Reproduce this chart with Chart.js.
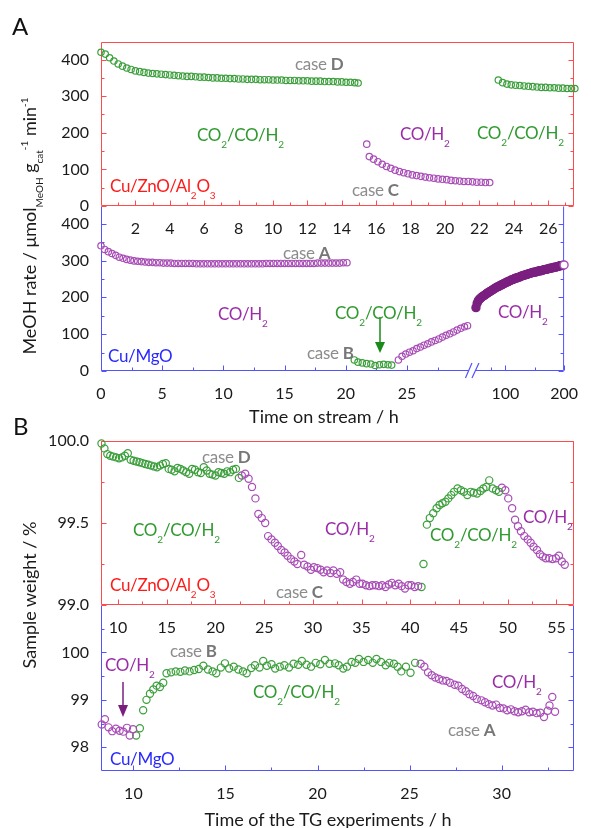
<!DOCTYPE html>
<html>
<head>
<meta charset="utf-8">
<script src="https://cdn.jsdelivr.net/npm/chart.js@4.4.1/dist/chart.umd.min.js"></script>
<style>
  body { margin: 0; background: #fff; }
  #wrap { position: relative; width: 591px; height: 828px; font-family: Lato, sans-serif; overflow: hidden; }
  canvas { position: absolute; left: 0; top: 0; }
  svg { position: absolute; left: 0; top: 0; }
  .t { position: absolute; white-space: nowrap; line-height: 1; font-size: 17px; letter-spacing: -0.3px; }
  .t sub, .yt sub { font-size: 10px; vertical-align: -7px; line-height: 0; letter-spacing: 0; }
  .yt sup { font-size: 10px; vertical-align: 8px; line-height: 0; }
  .green { color: #2f9a2f; }
  .purple { color: #9a2ca8; }
  .gray { color: #8c8c8c; }
  .gray b { color: #777; }
  .red { color: #ff1a1a; }
  .blue { color: #2a2aff; }
  .xt { position: absolute; white-space: nowrap; line-height: 1; font-size: 18px; color: #1a1a1a; transform: translateX(-50%); }
  .yt { position: absolute; white-space: nowrap; line-height: 1; font-size: 18px; color: #1a1a1a; transform: translate(-50%, -50%) rotate(-90deg); }
</style>
</head>
<body>
<div id="wrap">
  <canvas id="lowA" width="591" height="828"></canvas>
  <canvas id="topA" width="591" height="828"></canvas>
  <canvas id="lowB" width="591" height="828"></canvas>
  <canvas id="topB" width="591" height="828"></canvas>

  <svg width="591" height="828">
    <line x1="380" y1="317" x2="380" y2="343" stroke="#1a8a1a" stroke-width="1.5"/>
    <polygon points="375,342 385,342 380,353" fill="#1a8a1a"/>
    <line x1="123" y1="682" x2="123" y2="706" stroke="#7a1f80" stroke-width="1.5"/>
    <polygon points="118,705 128,705 123,717" fill="#7a1f80"/>
  </svg>

  <!-- panel A -->
  <div class="t" style="left:12px;top:14px;font-size:24px;color:#111">A</div>
  <div class="t gray" style="left:295px;top:55px">case <b>D</b></div>
  <div class="t green" style="left:197px;top:126px">CO<sub>2</sub>/CO/H<sub>2</sub></div>
  <div class="t purple" style="left:400px;top:125px">CO/H<sub>2</sub></div>
  <div class="t green" style="left:477px;top:124px">CO<sub>2</sub>/CO/H<sub>2</sub></div>
  <div class="t gray" style="left:352px;top:181px">case <b>C</b></div>
  <div class="t red" style="left:110px;top:177px">Cu/ZnO/Al<sub>2</sub>O<sub>3</sub></div>
  <div class="t gray" style="left:283px;top:244px">case <b>A</b></div>
  <div class="t purple" style="left:218px;top:305px">CO/H<sub>2</sub></div>
  <div class="t green" style="left:335px;top:304px">CO<sub>2</sub>/CO/H<sub>2</sub></div>
  <div class="t gray" style="left:307px;top:344px">case <b>B</b></div>
  <div class="t purple" style="left:498px;top:303px">CO/H<sub>2</sub></div>
  <div class="t blue" style="left:108px;top:347px">Cu/MgO</div>
  <div class="xt" style="left:324px;top:407px">Time on stream / h</div>
  <div class="yt" style="left:29px;top:226px">MeOH rate / μmol<sub>MeOH</sub> g<sub>cat</sub><sup>-1</sup> min<sup>-1</sup></div>

  <!-- panel B -->
  <div class="t" style="left:13px;top:414px;font-size:24px;color:#111">B</div>
  <div class="t gray" style="left:202px;top:448px">case <b>D</b></div>
  <div class="t green" style="left:133px;top:521px">CO<sub>2</sub>/CO/H<sub>2</sub></div>
  <div class="t purple" style="left:325px;top:520px">CO/H<sub>2</sub></div>
  <div class="t green" style="left:430px;top:526px">CO<sub>2</sub>/CO/H<sub>2</sub></div>
  <div class="t purple" style="left:523px;top:508px">CO/H<sub>2</sub></div>
  <div class="t gray" style="left:276px;top:583px">case <b>C</b></div>
  <div class="t red" style="left:110px;top:576px">Cu/ZnO/Al<sub>2</sub>O<sub>3</sub></div>
  <div class="t purple" style="left:105px;top:656px">CO/H<sub>2</sub></div>
  <div class="t gray" style="left:170px;top:642px">case <b>B</b></div>
  <div class="t green" style="left:253px;top:683px">CO<sub>2</sub>/CO/H<sub>2</sub></div>
  <div class="t blue" style="left:110px;top:750px">Cu/MgO</div>
  <div class="t purple" style="left:492px;top:673px">CO/H<sub>2</sub></div>
  <div class="t gray" style="left:448px;top:721px">case <b>A</b></div>
  <div class="xt" style="left:328px;top:810px">Time of the TG experiments / h</div>
  <div class="yt" style="left:29px;top:595px">Sample weight / %</div>
</div>

<script>
// ===== データ =====
// A 上段 Cu/ZnO/Al2O3 : 時間 (h) と MeOH 生成速度
const znGreen1T = [0,0.25,0.5,0.75,1,1.25,1.5,1.75,2,2.25,2.5,2.75,3,3.25,3.5,3.75,4,4.25,4.5,4.75,5,5.25,5.5,5.75,6,6.25,6.5,6.75,7,7.25,7.5,7.75,8,8.25,8.5,8.75,9,9.25,9.5,9.75,10,10.25,10.5,10.75,11,11.25,11.5,11.75,12,12.25,12.5,12.75,13,13.25,13.5,13.75,14,14.25,14.5,14.75,14.95];
const znGreen1Y = [420,415,405,396,388,382,377,373,369,367,365,363,362,361,360,359,358,357,356,355,354,354,353,352,352,351,350,350,349,349,348,348,347,347,346,346,346,345,345,345,344,344,344,343,343,343,342,342,342,341,341,341,340,340,340,339,339,338,338,337,336];
const znPurpleT = [15.45,15.6,15.85,16.1,16.35,16.6,16.85,17.1,17.35,17.6,17.85,18.1,18.35,18.6,18.85,19.1,19.35,19.6,19.85,20.1,20.35,20.6,20.85,21.1,21.35,21.6,21.85,22.1,22.35,22.6];
const znPurpleY = [169,135,128,121,114,108,103,98,94,91,88,85,83,81,79,77,76,74,73,72,70,69,68,67,67,66,65,65,64,64];
const znGreen2T = [23.1,23.35,23.6,23.85,24.1,24.35,24.6,24.85,25.1,25.35,25.6,25.85,26.1,26.35,26.6,26.85,27.1,27.35,27.55];
const znGreen2Y = [344,337,333,331,330,329,328,327,326,325,324,324,323,323,322,322,321,321,321];

// A 下段 Cu/MgO
const mgPurple1T = [0,0.3,0.6,0.9,1.2,1.5,1.8,2.1,2.4,2.7,3,3.3,3.6,3.9,4.2,4.5,4.8,5.1,5.4,5.7,6,6.3,6.6,6.9,7.2,7.5,7.8,8.1,8.4,8.7,9,9.3,9.6,9.9,10.2,10.5,10.8,11.1,11.4,11.7,12,12.3,12.6,12.9,13.2,13.5,13.8,14.1,14.4,14.7,15,15.3,15.6,15.9,16.2,16.5,16.8,17.1,17.4,17.7,18,18.3,18.6,18.9,19.2,19.5,19.8,20.1];
const mgPurple1Y = [340,330,324,319,314,309,306,303,301,299,298,297,296,295,295,294,294,293,293,293,292,292,292,292,292,292,291,291,291,291,291,291,291,291,291,291,291,291,291,291,291,291,291,291,291,292,292,292,292,292,292,292,292,292,292,292,292,292,292,293,293,293,293,293,293,293,294,294];
const mgGreenT = [20.7,21.0,21.35,21.7,22.05,22.4,22.75,23.1,23.45,23.75];
const mgGreenY = [30,24,22,20,19,15,17,18,17,16];
const mgPurple2T = [24.3,24.6,24.9,25.2,25.5,25.8,26.1,26.4,26.7,27.0,27.3,27.6,27.9,28.2,28.5,28.8,29.1,29.4,29.7,29.95];
const mgPurple2Y = [30,40,46,51,55,61,65,70,74,79,83,87,92,97,101,106,111,116,120,123];
const mgLongT = [50,52,54,56,58,60,62,64,66,68,70,72,74,76,78,80,82,84,86,88,90,92,94,96,98,100,102,104,106,108,110,112,114,116,118,120,122,124,126,128,130,132,134,136,138,140,142,144,146,148,150,152,154,156,158,160,162,164,166,168,170,172,174,176,178,180,182,184,186,188,190,192,194,196,198,200];
const mgLongY = [172,184,191,195,198,201,203,205,207,210,212,214,216,218,220,222,224,226,228,229,231,233,234,236,238,239,241,242,244,245,247,248,249,251,252,253,254,255,257,258,259,260,261,262,263,264,265,266,267,268,268,269,270,271,272,272,273,274,275,276,276,277,278,279,279,280,281,282,282,283,284,285,286,286,287,288];

// B 上段 Cu/ZnO/Al2O3 : TG 時間 (h) と重量 (%)
const tgZnGreen1T = [8.3,8.6,8.9,9.2,9.5,9.8,10.1,10.4,10.7,11.0,11.3,11.6,11.9,12.2,12.5,12.8,13.1,13.4,13.7,14.0,14.3,14.6,14.9,15.2,15.5,15.8,16.1,16.4,16.7,17.0,17.3,17.6,17.9,18.2,18.5,18.8,19.1,19.4,19.7,20.0,20.3,20.6,20.9,21.2,21.5,21.8,22.1,22.4];
const tgZnGreen1Y = [99.985,99.955,99.92,99.91,99.905,99.90,99.895,99.90,99.91,99.925,99.885,99.88,99.875,99.87,99.865,99.86,99.855,99.85,99.845,99.84,99.85,99.86,99.865,99.83,99.825,99.815,99.835,99.83,99.82,99.81,99.80,99.83,99.825,99.81,99.805,99.84,99.82,99.80,99.795,99.79,99.81,99.805,99.80,99.815,99.81,99.825,99.83,99.775];
const tgZnPurple1T = [22.7,23.05,23.4,23.75,24.1,24.4,24.75,25.1,25.4,25.75,26.1,26.4,26.75,27.1,27.4,27.75,28.1,28.4,28.8,29.1,29.45,29.8,30.1,30.45,30.8,31.1,31.45,31.8,32.1,32.45,32.8,33.1,33.45,33.8,34.1,34.45,34.8,35.1,35.45,35.8,36.1,36.45,36.8,37.1,37.45,37.8,38.1,38.45,38.8,39.1,39.45,39.8,40.1,40.45,40.8];
const tgZnPurple1Y = [99.79,99.80,99.77,99.72,99.65,99.555,99.53,99.50,99.42,99.40,99.38,99.36,99.335,99.32,99.30,99.28,99.265,99.25,99.305,99.245,99.235,99.215,99.23,99.225,99.215,99.20,99.21,99.195,99.21,99.19,99.20,99.155,99.14,99.13,99.14,99.155,99.13,99.13,99.12,99.115,99.12,99.12,99.115,99.12,99.11,99.125,99.135,99.12,99.13,99.115,99.10,99.12,99.12,99.11,99.115];
const tgZnGreen2T = [41.15,41.35,41.7,42.0,42.35,42.7,43.0,43.3,43.6,43.9,44.2,44.5,44.85,45.2,45.5,45.85,46.2,46.5,46.85,47.2,47.5,47.8,48.1,48.45,48.8,49.1];
const tgZnGreen2Y = [99.11,99.25,99.49,99.53,99.56,99.59,99.61,99.62,99.63,99.65,99.67,99.69,99.71,99.70,99.69,99.67,99.69,99.685,99.68,99.695,99.71,99.72,99.76,99.71,99.70,99.69];
const tgZnPurple2T = [49.4,49.75,50.05,50.45,50.75,51.05,51.35,51.7,52.05,52.35,52.65,53.0,53.3,53.6,53.9,54.25,54.6,54.95,55.25,55.55,55.85];
const tgZnPurple2Y = [99.715,99.70,99.65,99.59,99.52,99.48,99.45,99.42,99.40,99.38,99.355,99.335,99.31,99.295,99.285,99.285,99.28,99.285,99.30,99.265,99.245];

// B 下段 Cu/MgO
const tgMgPurple1T = [8.28,8.45,8.65,8.85,9.05,9.25,9.45,9.65,9.8,9.98];
const tgMgPurple1Y = [98.48,98.59,98.42,98.34,98.39,98.35,98.33,98.41,98.25,98.38];
const tgMgGreenT = [10.15,10.35,10.53,10.71,10.9,11.08,11.26,11.44,11.62,11.8,12.05,12.3,12.55,12.8,13.05,13.3,13.55,13.8,14.05,14.3,14.5,14.75,14.97,15.2,15.45,15.7,15.95,16.15,16.4,16.6,16.85,17.05,17.25,17.5,17.7,17.95,18.2,18.45,18.7,18.95,19.15,19.4,19.65,19.9,20.15,20.4,20.65,20.95,21.15,21.4,21.6,21.85,22.05,22.25,22.5,22.75,23.0,23.2,23.45,23.7,23.9,24.15,24.35,24.55,24.8,25.05,25.3];
const tgMgGreenY = [98.25,98.40,98.78,99.00,99.13,99.22,99.30,99.27,99.36,99.56,99.58,99.60,99.59,99.62,99.60,99.63,99.65,99.72,99.64,99.60,99.56,99.68,99.77,99.66,99.70,99.64,99.60,99.56,99.67,99.73,99.68,99.82,99.72,99.75,99.66,99.70,99.73,99.68,99.76,99.74,99.82,99.74,99.70,99.78,99.75,99.84,99.76,99.77,99.73,99.66,99.70,99.80,99.78,99.86,99.80,99.84,99.78,99.86,99.80,99.73,99.78,99.76,99.70,99.60,99.70,99.57,99.78];
const tgMgPurple2T = [25.6,25.8,26.0,26.2,26.4,26.6,26.8,27.0,27.2,27.45,27.65,27.85,28.05,28.25,28.45,28.65,28.9,29.1,29.3,29.5,29.7,29.9,30.1,30.3,30.5,30.7,30.9,31.1,31.3,31.5,31.7,31.9,32.1,32.3,32.5,32.6,32.75,32.9];
const tgMgPurple2Y = [99.76,99.70,99.58,99.52,99.47,99.44,99.41,99.40,99.36,99.32,99.30,99.23,99.18,99.12,99.08,99.02,98.99,98.95,98.91,98.88,98.90,98.83,98.82,98.78,98.80,98.76,98.74,98.76,98.79,98.74,98.75,98.72,98.73,98.64,98.77,98.88,99.06,98.75];

// 目盛り
const rateTicks = [0, 100, 200, 300, 400];
const rateLabels = ['0', '100', '200', '300', '400'];
const streamTopTicks = [2, 4, 6, 8, 10, 12, 14, 16, 18, 20, 22, 24, 26];
const streamTopLabels = ['2', '4', '6', '8', '10', '12', '14', '16', '18', '20', '22', '24', '26'];
const streamLowTicks = [0, 5, 10, 15, 20, 25, 100, 200];
const streamLowLabels = ['0', '5', '10', '15', '20', '25', '100', '200'];
const tgTopTicks = [10, 15, 20, 25, 30, 35, 40, 45, 50, 55];
const tgTopLabels = ['10', '15', '20', '25', '30', '35', '40', '45', '50', '55'];
const tgLowTicks = [10, 15, 20, 25, 30];
const tgLowLabels = ['10', '15', '20', '25', '30'];
const weightTopTicks = [99.0, 99.5, 100.0];
const weightTopLabels = ['99.0', '99.5', '100.0'];
const weightLowTicks = [98, 99, 100];
const weightLowLabels = ['98', '99', '100'];

// ===== 色 =====
const GREEN = '#3c9f3c';
const PURPLE = '#a84db6';
const BAND = '#7b1f80';
const RED = '#ff4b4b';
const BLUE = '#5252ff';

Chart.defaults.font.family = 'Lato, sans-serif';
Chart.defaults.font.size = 16;
Chart.defaults.color = '#1a1a1a';

function range(a, b, step) {
    const out = [];
    for (let v = a; v <= b + 1e-9; v += step) out.push(+v.toFixed(3));
    return out;
}

function pts(xs, ys) {
    return xs.map((x, i) => ({ x: x, y: ys[i] }));
}

function series(xs, ys, color, r) {
    return {
        data: pts(xs, ys),
        showLine: false,
        clip: false,
        pointRadius: r,
        pointBorderWidth: 1.2,
        pointBorderColor: color,
        pointBackgroundColor: 'rgba(0,0,0,0)'
    };
}

// 軸の切れ目 (30 h 〜 50 h) を持つ時間軸
class BrokenScale extends Chart.LinearScale {
    getPixelForValue(value) {
        let f;
        if (value <= 30.4) f = value / 30.4 * 0.8034;
        else if (value < 50) f = 0.8034 + (value - 30.4) / 19.6 * 0.0063;
        else f = 0.8097 + (value - 50) / 150 * 0.1903;
        return this.getPixelForDecimal(f);
    }
}
BrokenScale.id = 'brokenLinear';
BrokenScale.defaults = {};
Chart.register(BrokenScale);

// 枠と内向きの目盛り線
const framePlugin = {
    id: 'frame',
    beforeDatasetsDraw(chart, args, opts) {
        const { ctx, chartArea: a } = chart;
        const xs = chart.scales.x, ys = chart.scales.y;
        const L = a.left + 0.5, R = a.right - 0.5, T = a.top + 0.5, B = a.bottom - 0.5;
        ctx.save();
        ctx.strokeStyle = opts.color;
        ctx.lineWidth = 1;
        ctx.beginPath();
        opts.yMajor.concat(opts.yMinor).forEach((v, i) => {
            const len = i < opts.yMajor.length ? 5 : 3;
            const p = Math.round(ys.getPixelForValue(v)) + 0.5;
            ctx.moveTo(L, p); ctx.lineTo(L + len, p);
            ctx.moveTo(R, p); ctx.lineTo(R - len, p);
        });
        opts.xMajor.concat(opts.xMinor).forEach((v, i) => {
            const len = i < opts.xMajor.length ? 5 : 3;
            const p = Math.round(xs.getPixelForValue(v)) + 0.5;
            ctx.moveTo(p, B); ctx.lineTo(p, B - len);
        });
        if (opts.top) { ctx.moveTo(L, T); ctx.lineTo(R, T); }
        ctx.moveTo(L, T); ctx.lineTo(L, B);
        ctx.moveTo(R, T); ctx.lineTo(R, B);
        ctx.moveTo(L, B); ctx.lineTo(R, B);
        ctx.stroke();
        ctx.restore();
    }
};

// 「//」の切れ目マーク
const breakPlugin = {
    id: 'axisBreak',
    afterDraw(chart) {
        const { ctx, chartArea: a } = chart;
        const cx = chart.scales.x.getPixelForValue(40);
        const b = a.bottom - 0.5;
        ctx.save();
        ctx.fillStyle = '#fff';
        ctx.fillRect(cx - 5.5, b - 2, 6, 4);
        ctx.strokeStyle = BLUE;
        ctx.lineWidth = 1.2;
        ctx.beginPath();
        ctx.moveTo(cx - 9, b + 7.5); ctx.lineTo(cx - 2.5, b - 7.5);
        ctx.moveTo(cx - 2.5, b + 7.5); ctx.lineTo(cx + 4.5, b - 7.5);
        ctx.stroke();
        ctx.restore();
    }
};

function makePanel(id, o) {
    return new Chart(document.getElementById(id), {
        type: 'scatter',
        data: { datasets: o.datasets },
        options: {
            responsive: false,
            animation: false,
            events: [],
            layout: { autoPadding: false, padding: { left: 0, right: 17, top: o.top, bottom: 828 - o.bottom - 40 } },
            plugins: { legend: { display: false }, tooltip: { enabled: false }, frame: o.frame },
            scales: {
                x: {
                    type: o.xType || 'linear',
                    min: o.xMin, max: o.xMax,
                    grid: { display: false, drawTicks: false },
                    border: { display: false },
                    ticks: { padding: 13, autoSkip: false, maxRotation: 0, callback: (v, i) => o.xLabels[i] },
                    afterBuildTicks: s => { s.ticks = o.xTicks.map(v => ({ value: v })); },
                    afterFit: s => { s.height = 40; }
                },
                y: {
                    min: o.yMin, max: o.yMax,
                    grid: { display: false, drawTicks: false },
                    border: { display: false },
                    ticks: { padding: 12, autoSkip: false, callback: (v, i) => o.yLabels[i] },
                    afterBuildTicks: s => { s.ticks = o.yTicks.map(v => ({ value: v })); },
                    afterFit: s => { s.width = 101; }
                }
            }
        },
        plugins: [framePlugin].concat(o.extra || [])
    });
}

// A 下段
const lastLong = mgLongT.length - 1;
const longSeries = series(mgLongT, mgLongY, BAND, 4);
longSeries.pointBorderWidth = 1.4;
longSeries.pointBackgroundColor = c => c.dataIndex === lastLong ? '#fff' : BAND;
longSeries.pointBorderColor = c => c.dataIndex === lastLong ? PURPLE : BAND;

makePanel('lowA', {
    top: 206, bottom: 371,
    xType: 'brokenLinear', xMin: 0, xMax: 200,
    xTicks: streamLowTicks, xLabels: streamLowLabels,
    yMin: 0, yMax: 448, yTicks: rateTicks, yLabels: rateLabels,
    frame: { color: BLUE, top: false, yMajor: rateTicks, yMinor: [50, 150, 250, 350], xMajor: streamLowTicks, xMinor: range(2.5, 27.5, 5).concat([75, 150]) },
    datasets: [
        series(mgPurple1T, mgPurple1Y, PURPLE, 3.2),
        series(mgGreenT, mgGreenY, GREEN, 3.2),
        series(mgPurple2T, mgPurple2Y, PURPLE, 3.2),
        longSeries
    ],
    extra: [breakPlugin]
});

// A 上段
makePanel('topA', {
    top: 42, bottom: 206,
    xMin: 0, xMax: 27.5,
    xTicks: streamTopTicks, xLabels: streamTopLabels,
    yMin: 0, yMax: 448, yTicks: rateTicks, yLabels: rateLabels,
    frame: { color: RED, top: true, yMajor: rateTicks, yMinor: [50, 150, 250, 350], xMajor: streamTopTicks, xMinor: range(1, 27, 2) },
    datasets: [
        series(znGreen1T, znGreen1Y, GREEN, 3.2),
        series(znPurpleT, znPurpleY, PURPLE, 3.2),
        series(znGreen2T, znGreen2Y, GREEN, 3.2)
    ]
});

// B 下段
makePanel('lowB', {
    top: 605, bottom: 771,
    xMin: 8.24, xMax: 33.93,
    xTicks: tgLowTicks, xLabels: tgLowLabels,
    yMin: 97.5, yMax: 101, yTicks: weightLowTicks, yLabels: weightLowLabels,
    frame: { color: BLUE, top: false, yMajor: weightLowTicks, yMinor: [98.5, 99.5, 100.5], xMajor: tgLowTicks, xMinor: range(12.5, 32.5, 5) },
    datasets: [
        series(tgMgPurple1T, tgMgPurple1Y, PURPLE, 3.6),
        series(tgMgGreenT, tgMgGreenY, GREEN, 3.6),
        series(tgMgPurple2T, tgMgPurple2Y, PURPLE, 3.6)
    ]
});

// B 上段
makePanel('topB', {
    top: 441, bottom: 605,
    xMin: 8.25, xMax: 56.8,
    xTicks: tgTopTicks, xLabels: tgTopLabels,
    yMin: 99, yMax: 100, yTicks: weightTopTicks, yLabels: weightTopLabels,
    frame: { color: RED, top: true, yMajor: weightTopTicks, yMinor: [99.25, 99.75], xMajor: tgTopTicks, xMinor: range(12.5, 52.5, 5) },
    datasets: [
        series(tgZnGreen1T, tgZnGreen1Y, GREEN, 3.6),
        series(tgZnPurple1T, tgZnPurple1Y, PURPLE, 3.6),
        series(tgZnGreen2T, tgZnGreen2Y, GREEN, 3.6),
        series(tgZnPurple2T, tgZnPurple2Y, PURPLE, 3.6)
    ]
});
</script>
</body>
</html>
